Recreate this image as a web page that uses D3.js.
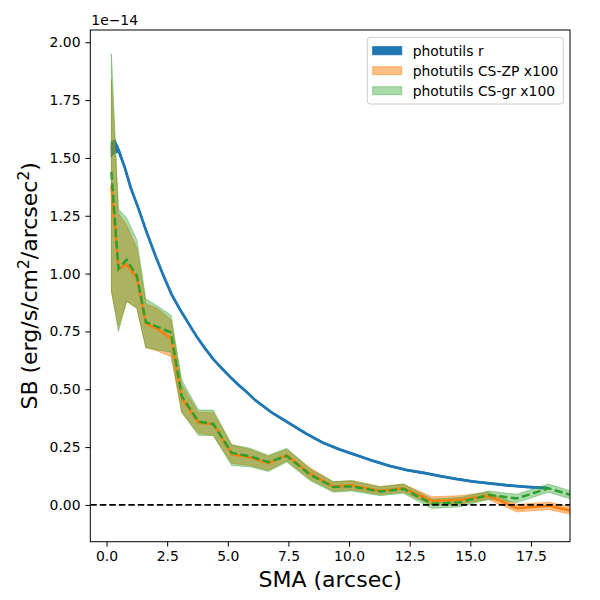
<!DOCTYPE html>
<html>
<head>
<meta charset="utf-8">
<script src="https://cdn.jsdelivr.net/npm/d3@7"></script>
<style>
  body { margin: 0; background: #fff; }
  text { font-family: "DejaVu Sans", sans-serif; }
</style>
</head>
<body>
<div id="chart"></div>
<script>
// photutils r profile (units of 1e-14)
const smaR = [0.19, 0.35, 0.49, 0.76, 1.0, 1.31, 1.65, 2.0, 2.35, 2.69, 3.03, 3.37, 3.7, 4.06, 4.4, 4.75, 5.1, 5.44, 5.8, 6.12, 6.8, 7.5, 8.2, 8.9, 9.6, 10.3, 11.0, 11.7, 12.4, 13.1, 13.75, 14.45, 15.13, 15.8, 16.5, 17.3, 18.22];
const sbR = [1.538, 1.55, 1.535, 1.456, 1.37, 1.283, 1.18, 1.081, 0.99, 0.908, 0.845, 0.786, 0.73, 0.677, 0.63, 0.591, 0.553, 0.519, 0.486, 0.454, 0.40, 0.355, 0.31, 0.27, 0.24, 0.215, 0.19, 0.168, 0.15, 0.138, 0.125, 0.112, 0.101, 0.093, 0.085, 0.078, 0.072];
const errR = [0.033, 0.028, 0.012, 0.006, 0.005, 0.005, 0.005, 0.004, 0.004, 0.004, 0.004, 0.004, 0.004, 0.004, 0.004, 0.004, 0.003, 0.003, 0.003, 0.003, 0.003, 0.003, 0.003, 0.003, 0.003, 0.003, 0.003, 0.003, 0.003, 0.003, 0.003, 0.003, 0.003, 0.003, 0.003, 0.003, 0.003];

// CS profiles x100
const smaCS = [0.2, 0.49, 0.83, 1.25, 1.62, 2.1, 2.66, 3.1, 3.79, 4.4, 5.16, 5.92, 6.67, 7.43, 8.4, 9.35, 10.11, 11.28, 12.24, 13.41, 14.58, 15.75, 16.92, 18.22, 19.4];
const sbZP   = [1.38, 1.02, 1.04, 0.98, 0.785, 0.76, 0.72, 0.46, 0.355, 0.35, 0.22, 0.205, 0.18, 0.215, 0.135, 0.08, 0.085, 0.06, 0.072, 0.017, 0.022, 0.039, -0.014, -0.004, -0.03];
const sbZPlo = [0.92, 0.77, 0.88, 0.85, 0.68, 0.665, 0.64, 0.40, 0.31, 0.30, 0.18, 0.17, 0.15, 0.19, 0.11, 0.06, 0.065, 0.045, 0.055, 0.0, 0.005, 0.023, -0.03, -0.02, -0.046];
const sbZPhi = [1.84, 1.26, 1.21, 1.11, 0.87, 0.85, 0.80, 0.52, 0.40, 0.40, 0.26, 0.24, 0.21, 0.24, 0.16, 0.10, 0.105, 0.08, 0.09, 0.035, 0.04, 0.055, 0.002, 0.012, -0.014];
const sbGR   = [1.44, 1.02, 1.06, 0.99, 0.79, 0.77, 0.745, 0.47, 0.36, 0.35, 0.225, 0.21, 0.185, 0.212, 0.13, 0.078, 0.08, 0.058, 0.07, 0.005, 0.012, 0.043, 0.028, 0.072, 0.035];
const sbGRlo = [0.93, 0.75, 0.88, 0.85, 0.68, 0.67, 0.66, 0.40, 0.30, 0.30, 0.17, 0.165, 0.145, 0.185, 0.105, 0.055, 0.06, 0.04, 0.05, -0.015, -0.008, 0.025, 0.01, 0.055, 0.018];
const sbGRhi = [1.95, 1.28, 1.24, 1.145, 0.89, 0.86, 0.82, 0.54, 0.41, 0.41, 0.26, 0.245, 0.215, 0.245, 0.155, 0.10, 0.105, 0.078, 0.09, 0.025, 0.032, 0.06, 0.046, 0.09, 0.052];

const xTicks = [0, 2.5, 5, 7.5, 10, 12.5, 15, 17.5];
const yTicks = [0, 0.25, 0.5, 0.75, 1.0, 1.25, 1.5, 1.75, 2.0];
const legendLabels = ['photutils r', 'photutils CS-ZP x100', 'photutils CS-gr x100'];

const W = 600, H = 600;
const m = { left: 90.3, right: 570, top: 30, bottom: 541.7 };

const svg = d3.select('#chart').append('svg')
  .attr('width', W)
  .attr('height', H);

const x = d3.scaleLinear().domain([-0.67, 19.11]).range([m.left, m.right]);
const y = d3.scaleLinear().domain([-0.159, 2.053]).range([m.bottom, m.top]);

svg.append('clipPath').attr('id', 'clip')
  .append('rect')
  .attr('x', m.left).attr('y', m.top)
  .attr('width', m.right - m.left).attr('height', m.bottom - m.top);

const plot = svg.append('g').attr('clip-path', 'url(#clip)');

const rRows = smaR.map((s, i) => ({ s, v: sbR[i], lo: sbR[i] - errR[i], hi: sbR[i] + errR[i] }));
const zpRows = smaCS.map((s, i) => ({ s, v: sbZP[i], lo: sbZPlo[i], hi: sbZPhi[i] }));
const grRows = smaCS.map((s, i) => ({ s, v: sbGR[i], lo: sbGRlo[i], hi: sbGRhi[i] }));

const area = d3.area().x(d => x(d.s)).y0(d => y(d.lo)).y1(d => y(d.hi));
const line = d3.line().x(d => x(d.s)).y(d => y(d.v));

// blue
plot.append('path').datum(rRows)
  .attr('d', area)
  .attr('fill', '#1f77b4')
  .attr('stroke', '#1f77b4')
  .attr('stroke-width', 1);
plot.append('path').datum(rRows)
  .attr('d', line)
  .attr('fill', 'none')
  .attr('stroke', '#1f77b4')
  .attr('stroke-width', 2.8);

// orange band
plot.append('path').datum(zpRows)
  .attr('d', area)
  .attr('fill', '#ff7f0e')
  .attr('fill-opacity', 0.5)
  .attr('stroke', '#ff7f0e')
  .attr('stroke-opacity', 0.5)
  .attr('stroke-width', 1);

// green band
plot.append('path').datum(grRows)
  .attr('d', area)
  .attr('fill', '#2ca02c')
  .attr('fill-opacity', 0.4)
  .attr('stroke', '#2ca02c')
  .attr('stroke-opacity', 0.4)
  .attr('stroke-width', 1);

plot.append('path').datum(zpRows)
  .attr('d', line)
  .attr('fill', 'none')
  .attr('stroke', '#ff7f0e')
  .attr('stroke-width', 2.5);

plot.append('path').datum(grRows)
  .attr('d', line)
  .attr('fill', 'none')
  .attr('stroke', '#2ca02c')
  .attr('stroke-width', 2.5)
  .attr('stroke-dasharray', '8,3.5');

// zero line
plot.append('line')
  .attr('x1', m.left).attr('x2', m.right)
  .attr('y1', y(0)).attr('y2', y(0))
  .attr('stroke', 'black')
  .attr('stroke-width', 1.7)
  .attr('stroke-dasharray', '6.5,3');

// axes
const xAxis = svg.append('g')
  .attr('transform', `translate(0,${m.bottom})`)
  .call(d3.axisBottom(x).tickValues(xTicks).tickFormat(d3.format('.1f')).tickSize(4.9).tickPadding(4.9));
const yAxis = svg.append('g')
  .attr('transform', `translate(${m.left},0)`)
  .call(d3.axisLeft(y).tickValues(yTicks).tickFormat(d3.format('.2f')).tickSize(4.9).tickPadding(4.9));

[xAxis, yAxis].forEach(g => {
  g.select('.domain').remove();
  g.selectAll('text').attr('font-size', '13.9px').attr('font-family', 'DejaVu Sans').attr('fill', '#000');
  g.selectAll('line').attr('stroke', '#000').attr('stroke-width', 1);
});

// frame
svg.append('rect')
  .attr('x', m.left).attr('y', m.top)
  .attr('width', m.right - m.left).attr('height', m.bottom - m.top)
  .attr('fill', 'none')
  .attr('stroke', '#000')
  .attr('stroke-width', 1);

// offset text
svg.append('text')
  .attr('x', m.left + 1)
  .attr('y', 25)
  .attr('font-size', '13.9px')
  .text('1e\u221214');

// labels
svg.append('text')
  .attr('x', (m.left + m.right) / 2)
  .attr('y', 587)
  .attr('text-anchor', 'middle')
  .attr('font-size', '22px')
  .text('SMA (arcsec)');

const yl = svg.append('text')
  .attr('transform', `translate(37,${(m.top + m.bottom) / 2}) rotate(-90)`)
  .attr('text-anchor', 'middle')
  .attr('font-size', '22px');
yl.append('tspan').text('SB (erg/s/cm');
yl.append('tspan').attr('font-size', '15.4px').attr('dy', -8).text('2');
yl.append('tspan').attr('dy', 8).text('/arcsec');
yl.append('tspan').attr('font-size', '15.4px').attr('dy', -8).text('2');
yl.append('tspan').attr('dy', 8).text(')');

// legend
const leg = svg.append('g').attr('transform', 'translate(367.3,37.3)');
leg.append('rect')
  .attr('width', 196).attr('height', 66.7)
  .attr('rx', 3)
  .attr('fill', 'white').attr('fill-opacity', 0.8)
  .attr('stroke', '#cccccc').attr('stroke-width', 1);
const legColors = [['#1f77b4', 1], ['#ff7f0e', 0.5], ['#2ca02c', 0.4]];
legendLabels.forEach((lab, i) => {
  const cy = 13.4 + i * 20;
  leg.append('rect')
    .attr('x', 5.4).attr('y', cy - 4)
    .attr('width', 29).attr('height', 8)
    .attr('fill', legColors[i][0]).attr('fill-opacity', legColors[i][1])
    .attr('stroke', legColors[i][0]).attr('stroke-opacity', legColors[i][1]);
  leg.append('text')
    .attr('x', 45.4).attr('y', cy + 5)
    .attr('font-size', '13.9px')
    .text(lab);
});
</script>
</body>
</html>
